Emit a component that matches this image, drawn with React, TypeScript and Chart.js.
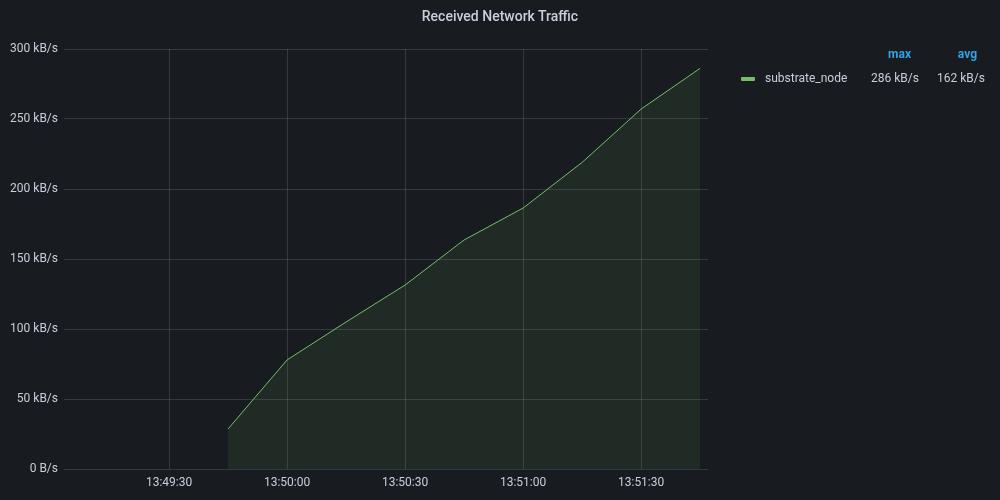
import React, { useEffect, useRef } from "react";
import { Chart, registerables } from "chart.js";

Chart.register(...registerables);

const title = "Received Network Traffic";
const seriesName = "substrate_node";
const times = ["13:49:45", "13:50:00", "13:50:15", "13:50:30", "13:50:45", "13:51:00", "13:51:15", "13:51:30", "13:51:45"];
const values = [28.6, 77.9, 105, 131.4, 163.6, 186.4, 219, 257.1, 286.2]; // kB/s
const xTickLabels = ["13:49:30", "13:50:00", "13:50:30", "13:51:00", "13:51:30"];
const xRange = ["13:49:03.3", "13:51:47"];
const yTicks = [0, 50, 100, 150, 200, 250, 300];
const legendHeaders = ["max", "avg"];
const legendValues = ["286 kB/s", "162 kB/s"];

const toSec = (s: string) => {
  const [h, m, sec] = s.split(":");
  return Number(h) * 3600 + Number(m) * 60 + Number(sec);
};
const pad = (n: number) => String(n).padStart(2, "0");
const fmt = (v: number) => {
  const h = Math.floor(v / 3600);
  const m = Math.floor((v % 3600) / 60);
  const s = Math.round(v % 60);
  return `${pad(h)}:${pad(m)}:${pad(s)}`;
};

const FONT = "Roboto, 'Noto Sans', sans-serif";
const BG = "#181b1f";
const TEXT = "#ccccdc";
const GRID = "rgba(204,204,220,0.17)";

export default function App() {
  const ref = useRef<HTMLCanvasElement | null>(null);
  useEffect(() => {
    if (!ref.current) return;
    const chart = new Chart(ref.current, {
      type: "line",
      data: {
        datasets: [
          {
            label: seriesName,
            data: times.map((t, i) => ({ x: toSec(t), y: values[i] })),
            borderColor: "#73bf69",
            backgroundColor: "rgba(115,191,105,0.1)",
            borderWidth: 1,
            fill: "origin",
            pointRadius: 0,
            tension: 0,
          },
        ],
      },
      options: {
        animation: false,
        responsive: false,
        maintainAspectRatio: false,
        layout: { padding: { top: 49, right: 292, left: 0, bottom: 0 } },
        plugins: { legend: { display: false }, title: { display: false }, tooltip: { enabled: false } },
        scales: {
          x: {
            type: "linear",
            min: toSec(xRange[0]),
            max: toSec(xRange[1]),
            afterBuildTicks: (scale: any) => {
              scale.ticks = xTickLabels.map((l) => ({ value: toSec(l) }));
            },
            afterFit: (scale: any) => {
              scale.height = 31;
            },
            border: { display: false },
            grid: { color: GRID, drawTicks: false, lineWidth: 1 },
            ticks: {
              color: TEXT,
              font: { family: FONT, size: 12 },
              padding: 7,
              maxRotation: 0,
              autoSkip: false,
              callback: (v: any) => fmt(Number(v)),
            },
          },
          y: {
            min: 0,
            max: 300,
            afterBuildTicks: (scale: any) => {
              scale.ticks = yTicks.map((v) => ({ value: v }));
            },
            afterFit: (scale: any) => {
              scale.width = 64;
            },
            border: { display: false },
            grid: { color: GRID, drawTicks: false, lineWidth: 1 },
            ticks: {
              color: TEXT,
              font: { family: FONT, size: 12 },
              padding: 6,
              callback: (v: any) => (Number(v) === 0 ? "0 B/s" : `${v} kB/s`),
            },
          },
        },
      },
    });
    return () => chart.destroy();
  }, []);

  const text: React.CSSProperties = {
    position: "absolute",
    fontFamily: FONT,
    fontSize: 12,
    color: TEXT,
    lineHeight: "16px",
    whiteSpace: "nowrap",
  };

  return (
    <div style={{ position: "fixed", left: 0, top: 0, width: 1000, height: 500, background: BG, overflow: "hidden" }}>
      <canvas ref={ref} width={1000} height={500} style={{ position: "absolute", left: 0, top: 0, width: 1000, height: 500 }} />
      <div style={{ ...text, left: 0, width: 1000, top: 7, textAlign: "center", fontSize: 14, fontWeight: 500, lineHeight: "18px" }}>{title}</div>
      <div style={{ ...text, right: 89, top: 46, color: "#33a2e5", fontWeight: 700 }}>{legendHeaders[0]}</div>
      <div style={{ ...text, right: 23, top: 46, color: "#33a2e5", fontWeight: 700 }}>{legendHeaders[1]}</div>
      <div style={{ position: "absolute", left: 741, top: 77, width: 14, height: 4, borderRadius: 1, background: "#73bf69" }} />
      <div style={{ ...text, left: 765, top: 70 }}>{seriesName}</div>
      <div style={{ ...text, right: 81, top: 70 }}>{legendValues[0]}</div>
      <div style={{ ...text, right: 15, top: 70 }}>{legendValues[1]}</div>
    </div>
  );
}
